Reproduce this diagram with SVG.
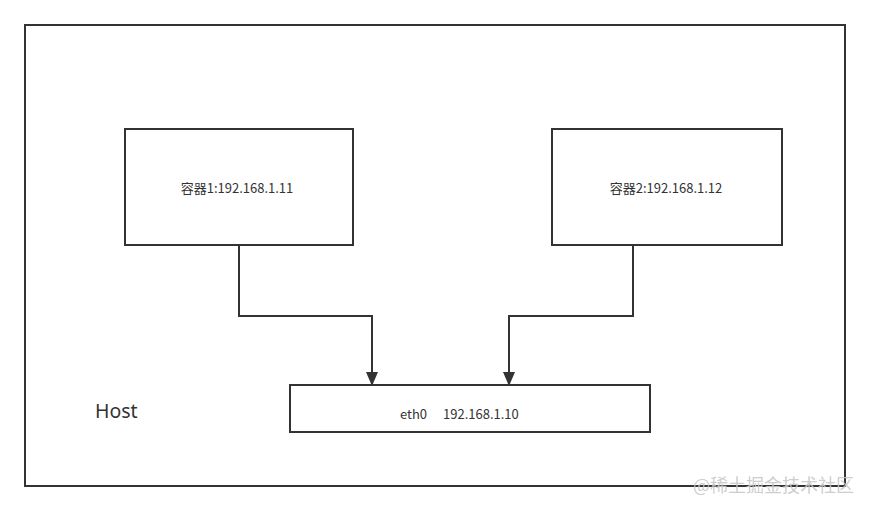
<svg xmlns="http://www.w3.org/2000/svg" width="870" height="511" viewBox="0 0 870 511">
<defs>
<style>
.box{fill:#ffffff;stroke:#333333;stroke-width:2}
.lbl{font-family:"Microsoft YaHei","Noto Sans CJK SC","Noto Sans",sans-serif;font-size:13px;fill:#333333}
.conn{fill:none;stroke:#333333;stroke-width:2}
</style>
<marker id="arr" viewBox="0 0 14 12" refX="13" refY="6" markerWidth="7" markerHeight="6" markerUnits="strokeWidth" orient="auto">
<path d="M0,0 L14,6 L0,12 z" fill="#333333"/>
</marker>
</defs>
<rect width="870" height="511" fill="#ffffff"/>
<g id="host">
<rect class="box" x="25" y="25" width="820" height="461"/>
<text x="95" y="418" font-family="'Noto Sans','Open Sans',sans-serif" font-size="19.5" fill="#333333">Host</text>
</g>
<g id="container1">
<rect class="box" x="125" y="129" width="228" height="116"/>
<text class="lbl" x="237" y="193" text-anchor="middle">容器1:192.168.1.11</text>
</g>
<g id="container2">
<rect class="box" x="552" y="129" width="230" height="116"/>
<text class="lbl" x="666" y="193" text-anchor="middle">容器2:192.168.1.12</text>
</g>
<g id="eth0">
<rect class="box" x="290" y="385" width="360" height="47"/>
<text class="lbl" x="400" y="419" font-size="13.5">eth0</text>
<text class="lbl" x="443" y="419" font-size="13.5">192.168.1.10</text>
</g>
<g id="connectors">
<path class="conn" d="M239,245 V316 H372 V385" marker-end="url(#arr)"/>
<path class="conn" d="M633,245 V316 H509 V385" marker-end="url(#arr)"/>
</g>
<text x="693" y="492" font-family="'Noto Sans CJK SC',sans-serif" font-size="18" fill="#c8c8c8" fill-opacity="0.9">@稀土掘金技术社区</text>
</svg>
